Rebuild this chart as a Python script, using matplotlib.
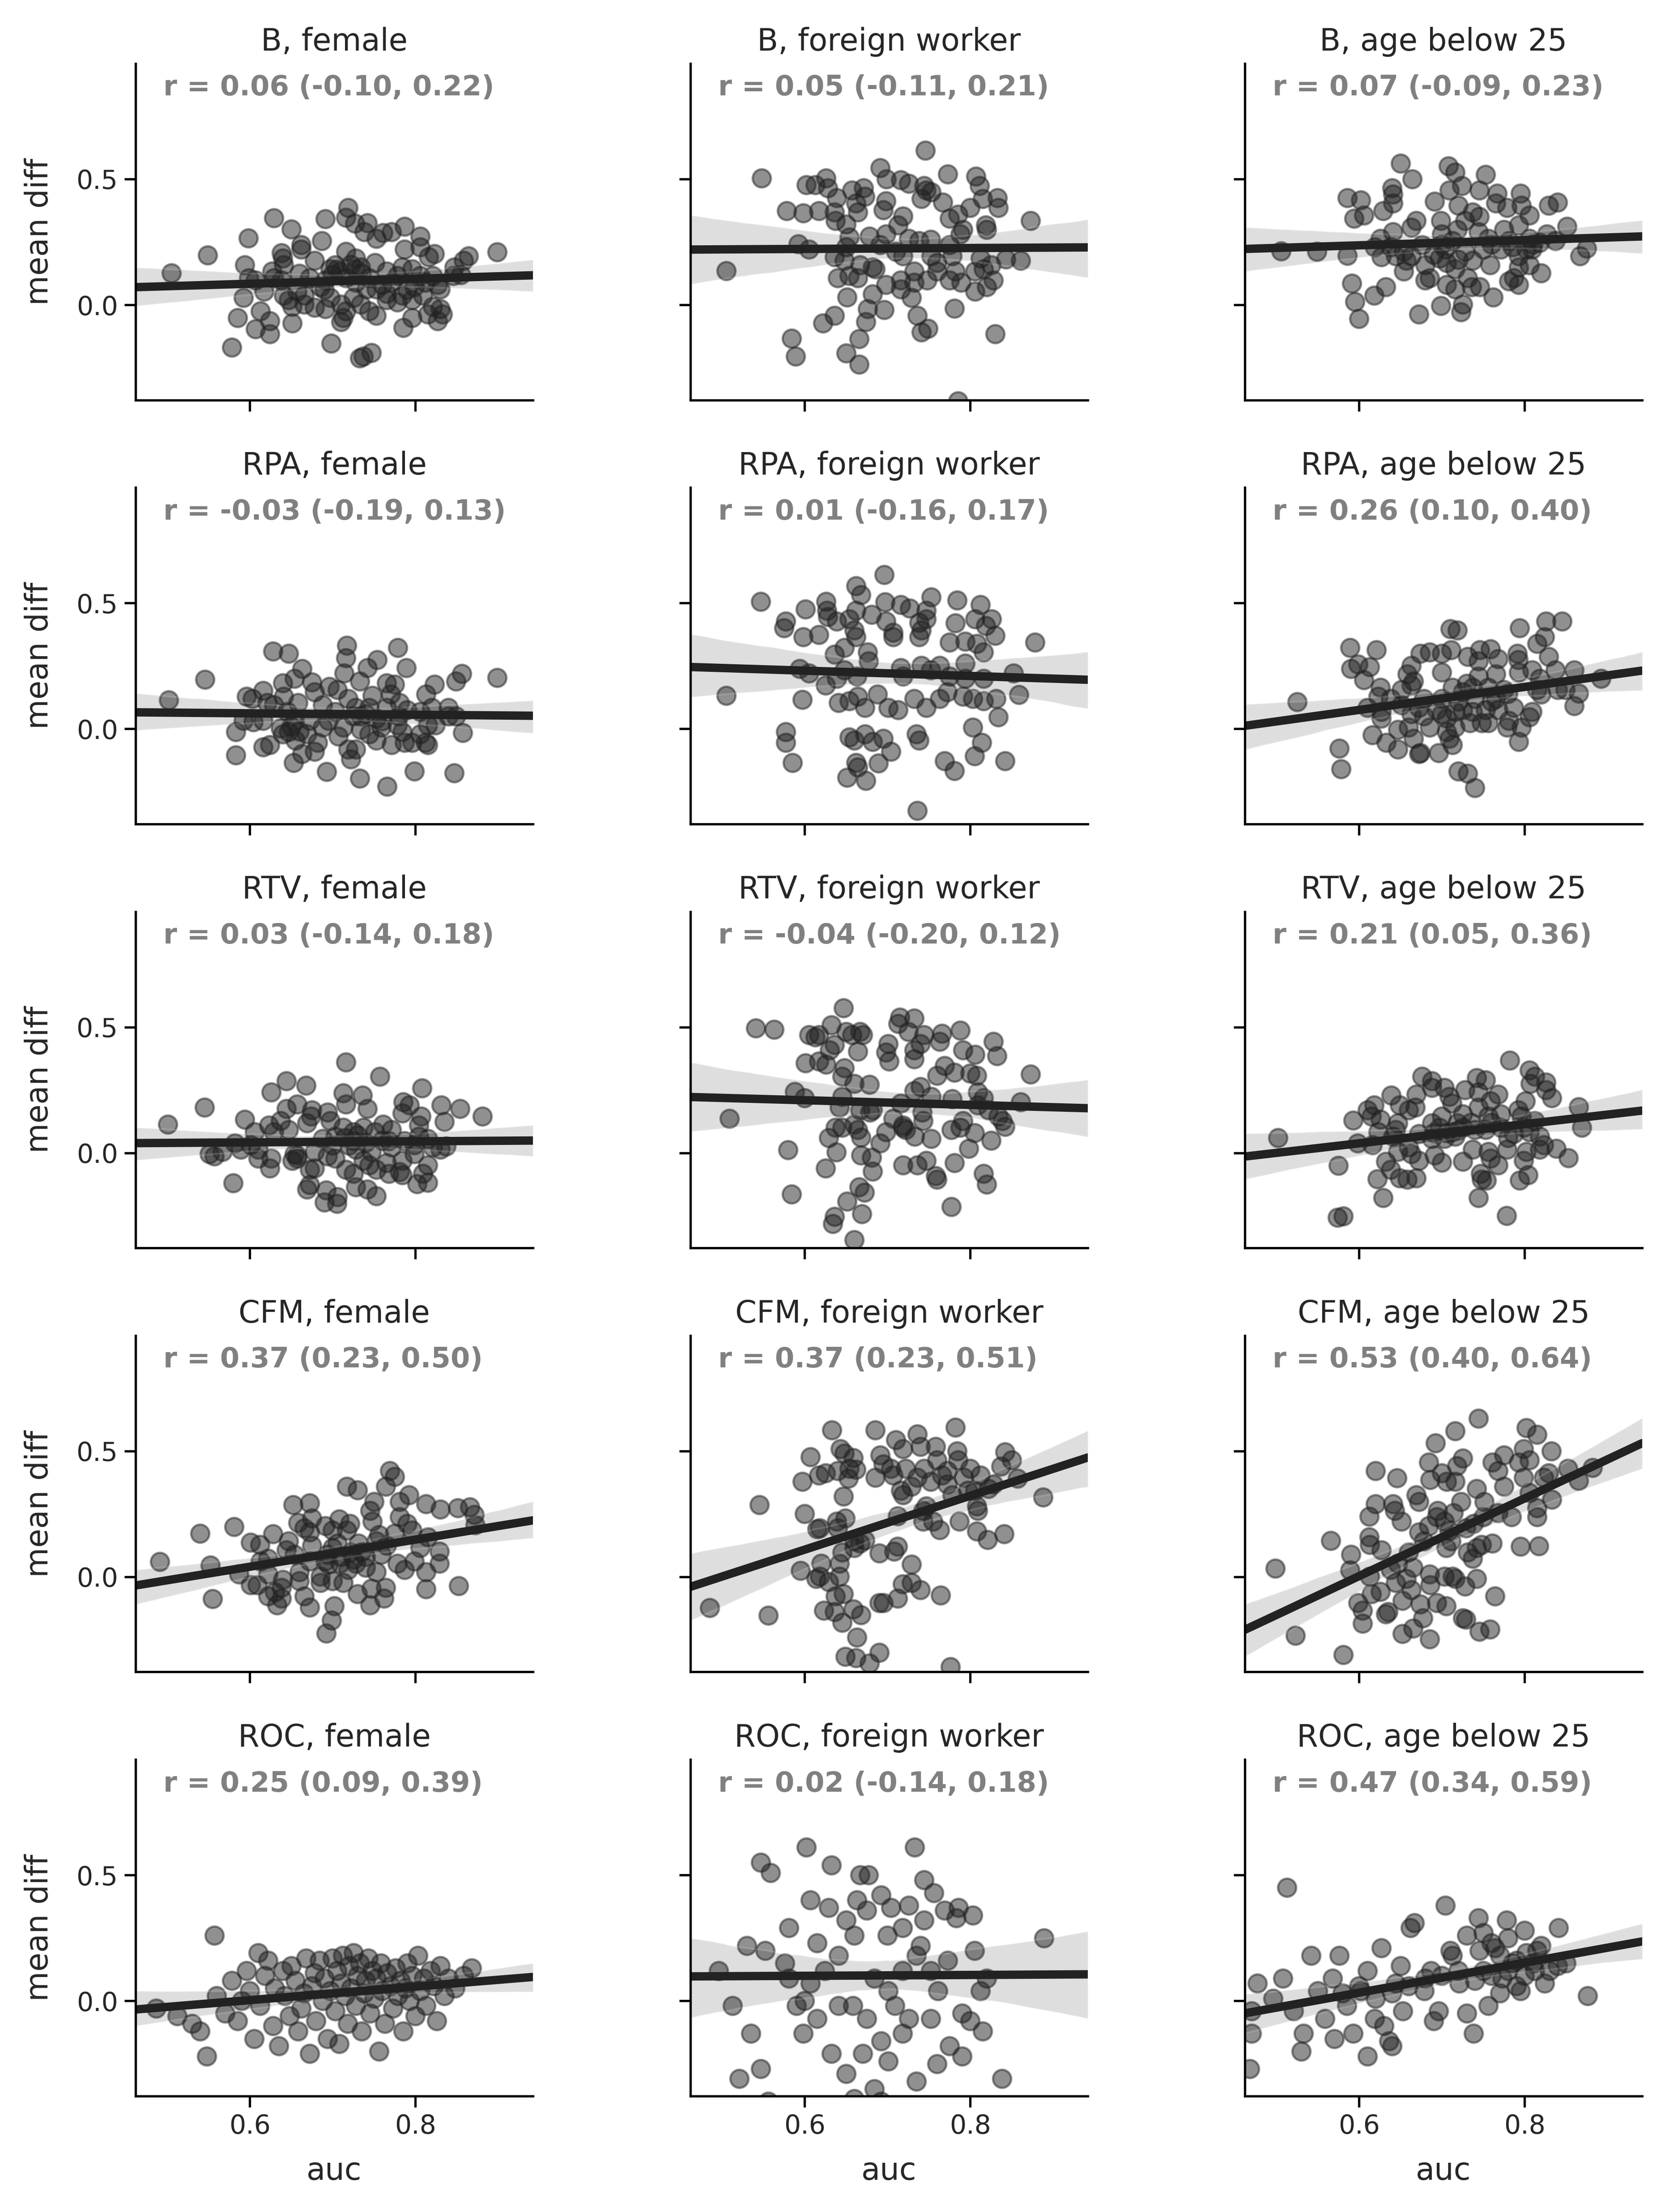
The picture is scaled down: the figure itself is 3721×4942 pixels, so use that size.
import numpy as np
import matplotlib
matplotlib.use("Agg")
import matplotlib.pyplot as plt
import seaborn as sns

methods = ["B", "RPA", "RTV", "CFM", "ROC"]
attributes = ["female", "foreign worker", "age below 25"]
r_labels = [
    "r = 0.06 (-0.10, 0.22)", "r = 0.05 (-0.11, 0.21)", "r = 0.07 (-0.09, 0.23)",
    "r = -0.03 (-0.19, 0.13)", "r = 0.01 (-0.16, 0.17)", "r = 0.26 (0.10, 0.40)",
    "r = 0.03 (-0.14, 0.18)", "r = -0.04 (-0.20, 0.12)", "r = 0.21 (0.05, 0.36)",
    "r = 0.37 (0.23, 0.50)", "r = 0.37 (0.23, 0.51)", "r = 0.53 (0.40, 0.64)",
    "r = 0.25 (0.09, 0.39)", "r = 0.02 (-0.14, 0.18)", "r = 0.47 (0.34, 0.59)",
]
x_ticks = [0.6, 0.8]
y_ticks = [0.0, 0.5]

# (auc, mean diff) pairs
B_female = [
    (0.505,0.126),(0.549,0.198),(0.598,0.266),(0.594,0.159),(0.629,0.345),(0.650,0.301),(0.691,0.341),
    (0.719,0.386),(0.716,0.347),(0.727,0.323),(0.742,0.325),(0.738,0.290),(0.753,0.264),(0.761,0.286),
    (0.771,0.290),(0.787,0.312),(0.806,0.273),(0.806,0.229),(0.787,0.220),(0.823,0.203),(0.816,0.190),
    (0.899,0.210),(0.864,0.194),(0.858,0.177),(0.847,0.150),(0.855,0.120),(0.846,0.115),(0.687,0.255),
    (0.662,0.238),(0.662,0.220),(0.638,0.207),(0.640,0.185),(0.641,0.159),(0.627,0.133),(0.599,0.107),
    (0.607,0.098),(0.592,0.028),(0.617,0.054),(0.613,-0.024),(0.585,-0.051),(0.624,-0.064),(0.607,-0.096),
    (0.624,-0.116),(0.578,-0.169),(0.651,-0.073),(0.651,-0.007),(0.647,0.019),(0.666,0.002),(0.678,-0.011),
    (0.691,-0.016),(0.678,0.177),(0.703,0.159),(0.697,0.142),(0.716,0.212),(0.728,0.185),(0.734,0.150),
    (0.751,0.168),(0.765,0.133),(0.784,0.150),(0.796,0.142),(0.806,0.115),(0.821,0.115),(0.830,0.063),
    (0.809,0.037),(0.796,0.019),(0.778,0.010),(0.784,0.037),(0.753,0.063),(0.741,0.063),(0.725,0.028),
    (0.710,0.002),(0.716,-0.024),(0.744,-0.024),(0.753,-0.042),(0.710,-0.068),(0.713,-0.051),(0.785,-0.090),
    (0.796,-0.051),(0.815,-0.038),(0.827,-0.064),(0.833,-0.038),(0.698,-0.153),(0.733,-0.212),(0.747,-0.191),
    (0.737,-0.204),(0.672,0.107),(0.685,0.072),(0.660,0.124),(0.638,0.098),(0.629,0.107),(0.716,0.107),
    (0.728,0.089),(0.771,0.089),(0.778,0.115),(0.812,0.089),(0.827,0.080),(0.765,0.019),(0.697,0.028),
    (0.641,0.037),(0.657,0.054),(0.691,0.098),(0.744,0.107),(0.799,0.072),(0.821,-0.007),(0.830,-0.016),
    (0.734,0.002),(0.710,0.133),(0.728,0.142),(0.765,0.045),(0.666,0.037),
    (0.700,0.120),(0.705,0.140),(0.722,0.160),(0.735,0.125),(0.690,0.060),(0.760,0.080),(0.790,0.060),
]
B_foreign = [
    (0.548,0.504),(0.505,0.135),(0.578,0.373),(0.598,0.365),(0.617,0.373),(0.602,0.476),(0.613,0.476),
    (0.626,0.504),(0.628,0.465),(0.639,0.426),(0.636,0.369),(0.637,0.334),(0.650,0.321),(0.657,0.456),
    (0.671,0.465),(0.664,0.369),(0.662,0.404),(0.691,0.544),(0.699,0.500),(0.698,0.413),(0.695,0.378),
    (0.716,0.496),(0.726,0.483),(0.719,0.352),(0.713,0.316),(0.746,0.614),(0.744,0.474),(0.753,0.448),
    (0.741,0.421),(0.767,0.408),(0.773,0.520),(0.807,0.510),(0.811,0.474),(0.815,0.421),(0.833,0.426),
    (0.834,0.386),(0.800,0.386),(0.785,0.360),(0.775,0.343),(0.819,0.316),(0.820,0.299),(0.873,0.334),
    (0.791,0.299),(0.788,0.281),(0.775,0.238),(0.752,0.260),(0.738,0.255),(0.726,0.264),(0.698,0.281),
    (0.678,0.273),(0.654,0.268),(0.650,0.229),(0.592,0.242),(0.605,0.220),(0.636,0.190),(0.648,0.177),
    (0.691,0.238),(0.719,0.194),(0.753,0.194),(0.778,0.194),(0.760,0.168),(0.812,0.185),(0.825,0.159),
    (0.843,0.181),(0.861,0.177),(0.816,0.142),(0.806,0.133),(0.828,0.098),(0.820,0.072),(0.806,0.054),
    (0.789,0.089),(0.775,0.098),(0.782,0.133),(0.760,0.133),(0.748,0.098),(0.732,0.133),(0.732,0.089),
    (0.716,0.098),(0.716,0.063),(0.729,0.028),(0.698,0.080),(0.682,0.150),(0.667,0.159),(0.685,0.142),
    (0.664,0.107),(0.654,0.115),(0.640,0.107),(0.651,0.031),(0.682,0.043),(0.676,-0.016),(0.696,-0.020),
    (0.674,-0.068),(0.636,-0.042),(0.622,-0.073),(0.584,-0.134),(0.589,-0.204),(0.666,-0.136),(0.650,-0.192),
    (0.666,-0.236),(0.736,-0.042),(0.741,-0.108),(0.749,-0.094),(0.781,-0.014),(0.830,-0.116),(0.785,-0.383),
    (0.710,0.212),(0.747,0.456),(0.673,0.430),
]
B_age = [
    (0.506,0.213),(0.549,0.212),(0.586,0.196),(0.586,0.426),(0.602,0.417),(0.594,0.343),(0.606,0.356),
    (0.629,0.373),(0.640,0.465),(0.641,0.439),(0.641,0.404),(0.650,0.563),(0.664,0.500),(0.691,0.411),
    (0.708,0.552),(0.716,0.526),(0.724,0.474),(0.709,0.456),(0.720,0.395),(0.753,0.517),(0.745,0.456),
    (0.767,0.443),(0.795,0.443),(0.765,0.404),(0.779,0.386),(0.796,0.395),(0.806,0.356),(0.829,0.395),
    (0.840,0.408),(0.851,0.312),(0.875,0.225),(0.867,0.194),(0.737,0.369),(0.745,0.351),(0.728,0.334),
    (0.699,0.334),(0.669,0.334),(0.663,0.308),(0.641,0.290),(0.626,0.264),(0.619,0.229),(0.627,0.190),
    (0.654,0.212),(0.657,0.177),(0.654,0.133),(0.680,0.159),(0.700,0.281),(0.704,0.220),(0.697,0.185),
    (0.706,0.168),(0.744,0.290),(0.756,0.264),(0.750,0.220),(0.737,0.177),(0.758,0.159),(0.771,0.220),
    (0.781,0.255),(0.793,0.316),(0.806,0.264),(0.818,0.247),(0.827,0.281),(0.837,0.255),(0.793,0.194),
    (0.793,0.150),(0.806,0.159),(0.820,0.126),(0.781,0.094),(0.793,0.080),(0.762,0.031),(0.746,0.072),
    (0.736,0.072),(0.731,0.107),(0.716,0.063),(0.706,0.080),(0.725,0.002),(0.723,-0.029),(0.699,-0.003),
    (0.672,-0.038),(0.685,0.107),(0.680,0.098),(0.632,0.072),(0.618,0.037),(0.591,0.085),(0.595,0.012),
    (0.600,-0.055),(0.719,0.299),(0.802,0.220),(0.663,0.194),(0.713,0.255),(0.775,0.299),(0.728,0.212),
    (0.809,0.220),(0.638,0.229),(0.676,0.238),(0.716,0.142),(0.787,0.107),(0.644,0.194),
    (0.700,0.240),(0.690,0.200),(0.760,0.240),(0.785,0.230),(0.810,0.240),(0.720,0.180),
]
RPA_female = [
    (0.502,0.114),(0.546,0.197),(0.628,0.309),(0.647,0.300),(0.663,0.239),(0.654,0.199),(0.640,0.182),
    (0.675,0.186),(0.717,0.331),(0.716,0.282),(0.714,0.221),(0.733,0.190),(0.742,0.243),(0.754,0.274),
    (0.779,0.322),(0.789,0.243),(0.765,0.182),(0.775,0.177),(0.823,0.177),(0.813,0.138),(0.849,0.190),
    (0.856,0.219),(0.899,0.204),(0.596,0.129),(0.603,0.120),(0.616,0.151),(0.621,0.103),(0.592,0.032),
    (0.604,0.028),(0.616,0.032),(0.583,-0.011),(0.583,-0.105),(0.616,-0.073),(0.624,-0.064),(0.637,0.002),
    (0.641,0.129),(0.658,0.103),(0.654,0.032),(0.647,-0.011),(0.655,-0.046),(0.663,-0.099),(0.653,-0.134),
    (0.678,-0.090),(0.682,-0.055),(0.688,0.006),(0.678,0.146),(0.696,0.168),(0.706,0.155),(0.688,0.094),
    (0.703,0.068),(0.713,0.006),(0.707,-0.029),(0.719,-0.082),(0.728,-0.082),(0.722,-0.121),(0.693,-0.171),
    (0.733,-0.197),(0.766,-0.229),(0.799,-0.169),(0.847,-0.176),(0.857,-0.016),(0.849,0.050),(0.840,0.085),
    (0.820,0.085),(0.815,0.015),(0.824,0.015),(0.815,-0.064),(0.812,-0.055),(0.796,-0.055),(0.787,-0.055),
    (0.771,-0.064),(0.753,-0.046),(0.744,-0.020),(0.734,0.050),(0.728,0.085),(0.748,0.133),(0.765,0.085),
    (0.781,0.103),(0.790,0.076),(0.778,0.015),(0.784,-0.011),(0.759,0.006),(0.806,-0.020),(0.725,0.050),
    (0.672,0.032),(0.669,-0.020),(0.753,0.041),(0.770,0.138),(0.840,0.050),(0.734,-0.003),(0.695,0.032),
    (0.629,0.094),(0.645,0.068),(0.744,0.085),(0.719,0.120),(0.806,0.068),
    (0.650,0.010),(0.660,-0.010),(0.740,0.060),(0.760,0.030),(0.780,0.050),(0.640,-0.020),
]
RPA_foreign = [
    (0.547,0.506),(0.505,0.133),(0.577,0.427),(0.575,0.401),(0.601,0.475),(0.598,0.366),(0.617,0.375),
    (0.626,0.506),(0.627,0.471),(0.628,0.445),(0.639,0.427),(0.654,0.436),(0.662,0.471),(0.662,0.568),
    (0.668,0.532),(0.660,0.392),(0.662,0.366),(0.696,0.613),(0.697,0.504),(0.681,0.454),(0.698,0.427),
    (0.707,0.366),(0.716,0.493),(0.727,0.480),(0.738,0.423),(0.741,0.392),(0.747,0.471),(0.753,0.524),
    (0.738,0.366),(0.784,0.511),(0.782,0.420),(0.812,0.493),(0.806,0.436),(0.826,0.436),(0.819,0.410),
    (0.830,0.370),(0.775,0.344),(0.794,0.348),(0.808,0.339),(0.816,0.304),(0.794,0.261),(0.878,0.344),
    (0.636,0.296),(0.648,0.322),(0.676,0.304),(0.677,0.269),(0.594,0.239),(0.605,0.221),(0.625,0.173),
    (0.639,0.199),(0.648,0.234),(0.663,0.208),(0.716,0.243),(0.719,0.208),(0.741,0.252),(0.752,0.234),
    (0.763,0.252),(0.775,0.208),(0.794,0.199),(0.816,0.199),(0.852,0.221),(0.859,0.136),(0.831,0.120),
    (0.834,0.047),(0.816,0.111),(0.803,0.120),(0.791,0.129),(0.772,0.146),(0.763,0.120),(0.747,0.085),
    (0.732,0.120),(0.713,0.076),(0.701,0.085),(0.688,0.138),(0.673,0.085),(0.664,0.129),(0.654,0.111),
    (0.641,0.103),(0.597,0.116),(0.577,-0.011),(0.577,-0.055),(0.585,-0.134),(0.654,-0.033),(0.660,-0.046),
    (0.673,-0.020),(0.682,-0.051),(0.695,-0.038),(0.704,-0.090),(0.662,-0.134),(0.664,-0.152),(0.651,-0.194),
    (0.674,-0.205),(0.689,-0.136),(0.735,-0.020),(0.738,-0.046),(0.803,0.006),(0.814,-0.055),(0.805,-0.108),
    (0.769,-0.128),(0.781,-0.167),(0.842,-0.128),(0.736,-0.325),(0.707,0.383),(0.747,0.436),
]
RPA_age = [
    (0.525,0.107),(0.576,-0.077),(0.578,-0.159),(0.589,0.322),(0.621,0.313),(0.590,0.239),(0.599,0.256),
    (0.613,0.247),(0.606,0.195),(0.626,0.164),(0.623,0.129),(0.610,0.085),(0.627,0.068),(0.627,0.041),
    (0.616,-0.025),(0.633,-0.055),(0.647,-0.082),(0.672,-0.099),(0.674,-0.095),(0.696,-0.095),(0.713,-0.064),
    (0.720,-0.169),(0.731,-0.178),(0.740,-0.235),(0.647,-0.003),(0.660,0.006),(0.666,-0.038),(0.685,0.006),
    (0.706,-0.011),(0.709,-0.038),(0.651,0.155),(0.663,0.173),(0.658,0.217),(0.663,0.252),(0.674,0.300),
    (0.685,0.304),(0.700,0.300),(0.711,0.313),(0.710,0.398),(0.719,0.392),(0.731,0.287),(0.746,0.313),
    (0.759,0.318),(0.768,0.278),(0.794,0.401),(0.826,0.427),(0.845,0.427),(0.824,0.366),(0.815,0.339),
    (0.791,0.300),(0.792,0.274),(0.829,0.287),(0.837,0.234),(0.860,0.234),(0.892,0.199),(0.865,0.142),
    (0.860,0.092),(0.849,0.155),(0.840,0.155),(0.820,0.138),(0.815,0.155),(0.809,0.234),(0.793,0.225),
    (0.809,0.068),(0.806,0.046),(0.796,0.006),(0.793,-0.051),(0.779,0.006),(0.781,0.032),(0.765,0.120),
    (0.765,0.217),(0.756,0.024),(0.748,0.024),(0.734,0.024),(0.737,0.068),(0.744,0.208),(0.737,0.164),
    (0.725,0.146),(0.713,0.164),(0.700,0.225),(0.700,0.120),(0.694,0.076),(0.706,0.041),(0.716,0.068),
    (0.672,0.085),(0.678,0.050),(0.663,0.059),(0.651,0.094),(0.666,0.190),(0.756,0.164),(0.775,0.155),
    (0.787,0.085),(0.725,0.076),(0.753,0.076),(0.768,0.076),(0.678,0.120),(0.716,0.006),(0.638,0.120),
    (0.744,0.269),(0.818,0.199),
    (0.720,0.110),(0.740,0.120),(0.760,0.110),(0.730,0.180),(0.780,0.140),(0.700,0.060),
]
RTV_female = [
    (0.501,0.114),(0.545,0.180),(0.594,0.132),(0.580,-0.120),(0.626,0.241),(0.644,0.285),(0.668,0.268),
    (0.716,0.360),(0.757,0.303),(0.808,0.257),(0.831,0.190),(0.854,0.175),(0.881,0.145),(0.835,0.123),
    (0.713,0.237),(0.716,0.193),(0.736,0.228),(0.742,0.175),(0.785,0.202),(0.793,0.189),(0.784,0.158),
    (0.807,0.145),(0.804,0.110),(0.761,0.114),(0.694,0.162),(0.675,0.171),(0.674,0.145),(0.657,0.193),
    (0.644,0.175),(0.637,0.127),(0.623,0.110),(0.606,0.083),(0.582,0.039),(0.589,0.013),(0.601,0.031),
    (0.610,0.013),(0.551,-0.004),(0.557,-0.013),(0.567,0.004),(0.610,-0.022),(0.626,-0.022),(0.624,-0.061),
    (0.654,-0.004),(0.651,-0.031),(0.657,-0.009),(0.672,-0.066),(0.678,-0.061),(0.669,-0.145),(0.672,-0.127),
    (0.692,-0.149),(0.690,-0.196),(0.705,-0.202),(0.706,-0.175),(0.728,-0.136),(0.742,-0.145),(0.753,-0.171),
    (0.716,-0.066),(0.725,-0.083),(0.744,-0.048),(0.753,-0.066),(0.768,-0.083),(0.781,-0.075),(0.784,-0.088),
    (0.802,-0.123),(0.815,-0.118),(0.809,-0.083),(0.815,-0.048),(0.799,-0.004),(0.821,0.022),(0.837,0.026),
    (0.771,0.022),(0.768,0.048),(0.747,0.004),(0.728,0.013),(0.725,0.048),(0.713,0.101),(0.725,0.083),
    (0.737,0.101),(0.751,0.083),(0.703,0.066),(0.688,0.057),(0.703,-0.022),(0.694,-0.013),(0.678,0.004),
    (0.647,0.092),(0.629,0.083),(0.787,0.048),(0.804,0.066),(0.815,0.057),(0.830,0.013),(0.784,-0.031),
    (0.799,0.031),(0.657,-0.022),(0.669,0.118),(0.737,-0.031),(0.765,-0.039),(0.771,0.092),(0.697,0.127),
    (0.715,0.060),(0.720,0.030),(0.730,0.070),(0.700,0.030),(0.760,0.050),(0.740,0.040),
]
RTV_foreign = [
    (0.541,0.496),(0.563,0.491),(0.509,0.136),(0.580,0.011),(0.584,-0.164),(0.588,0.243),(0.600,0.219),
    (0.601,0.357),(0.605,0.469),(0.613,0.461),(0.617,0.469),(0.632,0.509),(0.636,0.430),(0.630,0.408),
    (0.617,0.364),(0.626,0.351),(0.647,0.575),(0.650,0.482),(0.657,0.469),(0.667,0.482),(0.670,0.469),
    (0.664,0.404),(0.648,0.338),(0.645,0.303),(0.660,0.276),(0.678,0.272),(0.645,0.224),(0.642,0.180),
    (0.667,0.171),(0.682,0.171),(0.698,0.399),(0.701,0.434),(0.702,0.364),(0.715,0.539),(0.713,0.513),
    (0.732,0.535),(0.725,0.482),(0.744,0.469),(0.740,0.434),(0.732,0.408),(0.732,0.373),(0.766,0.474),
    (0.763,0.443),(0.788,0.487),(0.791,0.408),(0.806,0.390),(0.828,0.443),(0.832,0.386),(0.769,0.346),
    (0.781,0.320),(0.760,0.307),(0.800,0.316),(0.808,0.307),(0.873,0.313),(0.740,0.263),(0.732,0.246),
    (0.753,0.224),(0.778,0.215),(0.809,0.241),(0.816,0.219),(0.809,0.189),(0.822,0.171),(0.861,0.202),
    (0.834,0.145),(0.839,0.127),(0.842,0.105),(0.791,0.127),(0.788,0.101),(0.805,0.079),(0.777,0.092),
    (0.825,0.050),(0.798,0.018),(0.753,0.057),(0.743,0.127),(0.742,0.162),(0.716,0.197),(0.707,0.136),
    (0.719,0.110),(0.722,0.092),(0.733,0.066),(0.698,0.083),(0.691,0.039),(0.668,0.061),(0.660,0.114),
    (0.664,0.092),(0.645,0.101),(0.637,0.101),(0.629,0.060),(0.638,0.003),(0.625,-0.061),(0.668,-0.009),
    (0.681,-0.018),(0.682,-0.073),(0.719,-0.048),(0.736,-0.048),(0.747,-0.031),(0.758,-0.092),(0.760,-0.105),
    (0.781,-0.039),(0.816,-0.083),(0.820,-0.125),(0.777,-0.215),(0.666,-0.136),(0.672,-0.158),(0.651,-0.193),
    (0.669,-0.243),(0.636,-0.254),(0.634,-0.281),(0.660,-0.346),(0.719,0.101),(0.679,0.162),
]
RTV_age = [
    (0.502,0.059),(0.575,-0.051),(0.574,-0.256),(0.581,-0.252),(0.593,0.130),(0.598,0.039),(0.610,0.171),
    (0.618,0.189),(0.615,0.145),(0.626,0.132),(0.616,0.031),(0.623,0.083),(0.639,0.228),(0.649,0.189),
    (0.660,0.171),(0.668,0.180),(0.669,0.232),(0.676,0.303),(0.688,0.285),(0.688,0.259),(0.703,0.259),
    (0.709,0.224),(0.712,0.197),(0.728,0.250),(0.742,0.298),(0.753,0.289),(0.768,0.232),(0.759,0.206),
    (0.744,0.241),(0.782,0.368),(0.806,0.329),(0.812,0.303),(0.826,0.281),(0.807,0.276),(0.826,0.250),
    (0.833,0.219),(0.801,0.206),(0.865,0.182),(0.869,0.101),(0.792,0.171),(0.796,0.145),(0.812,0.127),
    (0.771,0.154),(0.756,0.145),(0.744,0.180),(0.725,0.154),(0.700,0.145),(0.688,0.118),(0.647,0.118),
    (0.644,0.092),(0.641,0.066),(0.672,0.075),(0.688,0.057),(0.703,0.057),(0.716,0.066),(0.725,0.101),
    (0.740,0.092),(0.753,0.092),(0.771,0.101),(0.787,0.075),(0.806,0.083),(0.818,0.066),(0.838,0.018),
    (0.853,-0.020),(0.818,0.013),(0.802,0.004),(0.799,-0.031),(0.804,-0.088),(0.794,-0.110),(0.779,0.013),
    (0.756,0.004),(0.759,-0.022),(0.768,-0.048),(0.747,-0.083),(0.748,-0.105),(0.754,-0.110),(0.744,-0.178),
    (0.778,-0.250),(0.737,0.013),(0.725,-0.035),(0.700,-0.038),(0.691,-0.009),(0.672,-0.031),(0.663,-0.004),
    (0.647,0.004),(0.632,-0.035),(0.638,-0.066),(0.649,-0.101),(0.658,-0.105),(0.669,-0.101),(0.622,-0.103),
    (0.629,-0.178),(0.719,0.118),(0.697,0.101),(0.712,0.083),(0.799,0.101),(0.660,0.022),(0.823,0.031),
    (0.705,0.080),(0.720,0.090),(0.735,0.120),(0.690,0.080),(0.760,0.120),(0.780,0.060),
]
CFM_female = [
    (0.491,0.060),(0.540,0.172),(0.581,0.200),(0.552,0.047),(0.555,-0.088),(0.587,0.010),(0.601,0.137),
    (0.612,0.128),(0.628,0.170),(0.613,0.063),(0.622,0.072),(0.622,0.010),(0.601,-0.033),(0.609,-0.033),
    (0.622,-0.077),(0.633,-0.112),(0.638,-0.086),(0.638,-0.042),(0.652,0.286),(0.672,0.293),(0.658,0.216),
    (0.675,0.233),(0.647,0.142),(0.644,0.107),(0.654,0.089),(0.666,0.194),(0.672,0.177),(0.691,0.203),
    (0.700,0.185),(0.708,0.229),(0.717,0.185),(0.721,0.212),(0.717,0.360),(0.730,0.345),(0.769,0.421),
    (0.775,0.399),(0.764,0.360),(0.750,0.299),(0.745,0.264),(0.748,0.220),(0.781,0.299),(0.792,0.325),
    (0.813,0.290),(0.830,0.268),(0.851,0.273),(0.866,0.277),(0.871,0.247),(0.872,0.207),(0.781,0.238),
    (0.790,0.212),(0.796,0.185),(0.815,0.159),(0.775,0.172),(0.756,0.168),(0.753,0.142),(0.806,0.115),
    (0.829,0.102),(0.829,0.054),(0.813,0.019),(0.813,-0.049),(0.852,-0.036),(0.787,0.028),(0.778,0.054),
    (0.759,0.089),(0.753,0.019),(0.740,0.080),(0.728,0.054),(0.719,0.028),(0.709,0.054),(0.694,0.089),
    (0.691,0.063),(0.672,0.063),(0.660,0.019),(0.660,-0.016),(0.685,0.002),(0.700,-0.016),(0.685,-0.024),
    (0.713,-0.024),(0.666,-0.077),(0.672,-0.121),(0.702,-0.116),(0.699,-0.173),(0.692,-0.224),(0.730,-0.068),
    (0.747,-0.046),(0.745,-0.112),(0.764,-0.042),(0.762,-0.086),(0.722,0.098),(0.706,0.133),(0.731,0.133),
    (0.675,0.124),(0.799,0.063),(0.740,0.037),(0.765,0.124),(0.700,0.115),
    (0.710,0.080),(0.725,0.070),(0.735,0.100),(0.695,0.050),(0.640,-0.010),(0.630,-0.060),
]
CFM_foreign = [
    (0.485,-0.122),(0.556,-0.153),(0.545,0.286),(0.597,0.378),(0.607,0.476),(0.617,0.404),(0.625,0.413),
    (0.633,0.583),(0.643,0.509),(0.648,0.491),(0.659,0.474),(0.654,0.430),(0.640,0.421),(0.662,0.426),
    (0.653,0.391),(0.647,0.321),(0.600,0.251),(0.615,0.190),(0.618,0.194),(0.639,0.220),(0.649,0.233),
    (0.640,0.194),(0.685,0.583),(0.710,0.544),(0.736,0.568),(0.782,0.594),(0.691,0.483),(0.695,0.448),
    (0.685,0.395),(0.707,0.404),(0.719,0.509),(0.722,0.430),(0.736,0.395),(0.740,0.517),(0.758,0.517),
    (0.760,0.465),(0.752,0.378),(0.784,0.500),(0.785,0.465),(0.800,0.430),(0.812,0.404),(0.772,0.421),
    (0.772,0.369),(0.778,0.325),(0.797,0.343),(0.808,0.281),(0.809,0.264),(0.822,0.351),(0.828,0.369),
    (0.842,0.496),(0.850,0.465),(0.837,0.439),(0.857,0.391),(0.888,0.316),(0.716,0.343),(0.719,0.325),
    (0.729,0.360),(0.712,0.242),(0.743,0.264),(0.743,0.220),(0.755,0.220),(0.763,0.187),(0.787,0.220),
    (0.808,0.181),(0.821,0.148),(0.841,0.170),(0.747,0.281),(0.660,0.142),(0.673,0.146),(0.667,0.133),
    (0.660,0.115),(0.645,0.098),(0.690,0.094),(0.712,0.120),(0.708,0.102),(0.729,0.050),(0.642,0.054),
    (0.620,0.054),(0.595,0.024),(0.614,-0.007),(0.618,0.002),(0.642,0.002),(0.629,-0.020),(0.647,-0.068),
    (0.637,-0.077),(0.623,-0.134),(0.636,-0.138),(0.645,-0.182),(0.659,-0.129),(0.668,-0.151),(0.663,-0.240),
    (0.649,-0.317),(0.662,-0.322),(0.690,-0.300),(0.678,-0.344),(0.690,-0.103),(0.695,-0.103),(0.712,-0.086),
    (0.718,-0.029),(0.729,-0.024),(0.740,-0.051),(0.764,-0.073),(0.776,-0.357),(0.704,0.430),(0.744,0.430),
    (0.792,0.395),(0.806,0.343),(0.766,0.404),
]
CFM_age = [
    (0.499,0.034),(0.523,-0.233),(0.581,-0.309),(0.566,0.144),(0.590,0.089),(0.589,0.026),(0.613,0.002),
    (0.612,0.159),(0.613,0.128),(0.612,0.240),(0.620,0.290),(0.620,0.421),(0.646,0.393),(0.641,0.290),
    (0.643,0.264),(0.651,0.220),(0.627,0.107),(0.647,0.054),(0.660,0.098),(0.665,0.037),(0.657,-0.007),
    (0.644,-0.024),(0.663,-0.051),(0.652,-0.094),(0.626,-0.059),(0.615,-0.068),(0.599,-0.103),(0.604,-0.134),
    (0.604,-0.186),(0.635,-0.138),(0.632,-0.147),(0.652,-0.226),(0.665,-0.204),(0.677,-0.164),(0.685,-0.247),
    (0.674,-0.108),(0.694,-0.103),(0.705,-0.116),(0.686,-0.033),(0.685,0.010),(0.703,0.002),(0.716,-0.007),
    (0.728,-0.038),(0.742,-0.007),(0.725,-0.164),(0.729,-0.169),(0.745,-0.217),(0.758,-0.208),(0.764,-0.077),
    (0.737,0.072),(0.742,0.115),(0.761,0.133),(0.748,0.128),(0.705,0.115),(0.711,0.142),(0.678,0.142),
    (0.672,0.177),(0.684,0.203),(0.669,0.325),(0.672,0.299),(0.694,0.238),(0.695,0.264),(0.703,0.220),
    (0.714,0.255),(0.723,0.299),(0.729,0.194),(0.738,0.212),(0.750,0.238),(0.751,0.299),(0.742,0.351),
    (0.716,0.378),(0.706,0.378),(0.700,0.413),(0.686,0.386),(0.684,0.456),(0.692,0.532),(0.716,0.579),
    (0.744,0.629),(0.718,0.441),(0.725,0.471),(0.761,0.456),(0.775,0.483),(0.768,0.421),(0.775,0.360),
    (0.768,0.255),(0.784,0.238),(0.795,0.120),(0.817,0.122),(0.802,0.592),(0.815,0.566),(0.799,0.509),
    (0.806,0.465),(0.799,0.395),(0.832,0.500),(0.823,0.395),(0.829,0.413),(0.806,0.334),(0.815,0.273),
    (0.815,0.238),(0.833,0.308),(0.852,0.430),(0.865,0.382),(0.882,0.434),(0.793,0.456),(0.709,0.185),
    (0.731,0.098),(0.713,0.002),(0.638,0.028),
]
ROC_female = [
    (0.487,-0.03),(0.512,-0.06),(0.530,-0.09),(0.540,-0.12),(0.548,-0.22),(0.557,0.26),(0.560,0.02),
    (0.570,-0.05),(0.578,0.08),(0.585,-0.08),(0.590,0.00),(0.596,0.12),(0.600,0.04),(0.605,-0.15),
    (0.610,0.19),(0.612,-0.02),(0.618,0.10),(0.622,0.16),(0.628,-0.10),(0.630,0.05),(0.635,-0.18),
    (0.640,0.12),(0.642,0.02),(0.648,-0.06),(0.650,0.14),(0.655,0.08),(0.658,-0.12),(0.662,-0.03),
    (0.665,0.03),(0.668,0.17),(0.672,-0.21),(0.675,0.06),(0.678,0.11),(0.680,-0.08),(0.684,0.16),
    (0.688,0.00),(0.690,0.09),(0.694,-0.15),(0.697,0.04),(0.700,0.17),(0.703,-0.04),(0.705,0.12),
    (0.708,-0.17),(0.710,0.07),(0.712,0.18),(0.715,0.02),(0.718,-0.09),(0.720,0.14),(0.722,0.05),
    (0.725,0.19),(0.728,-0.02),(0.730,0.10),(0.733,0.15),(0.735,-0.12),(0.738,0.03),(0.740,0.08),
    (0.743,0.17),(0.745,-0.05),(0.748,0.12),(0.750,0.01),(0.753,0.09),(0.756,-0.20),(0.758,0.15),
    (0.760,0.04),(0.763,-0.09),(0.766,0.11),(0.770,0.06),(0.773,-0.03),(0.776,0.13),(0.779,0.02),
    (0.782,0.08),(0.785,-0.12),(0.788,0.05),(0.790,0.15),(0.793,0.00),(0.796,0.10),(0.800,-0.06),
    (0.803,0.18),(0.806,0.04),(0.810,0.09),(0.813,-0.02),(0.818,0.12),(0.822,0.06),(0.826,-0.08),
    (0.830,0.14),(0.835,0.02),(0.840,0.09),(0.848,0.05),(0.858,0.10),(0.868,0.13),
]
ROC_foreign = [
    (0.547,0.55),(0.559,0.51),(0.602,0.61),(0.632,0.54),(0.667,0.50),(0.677,0.50),(0.733,0.61),
    (0.744,0.48),(0.581,0.09),(0.607,0.07),(0.624,0.12),(0.641,0.18),(0.650,0.32),(0.663,0.40),
    (0.675,0.36),(0.692,0.42),(0.704,0.37),(0.718,0.29),(0.726,0.38),(0.744,0.32),(0.756,0.43),
    (0.769,0.36),(0.783,0.33),(0.800,-0.08),(0.812,0.04),(0.684,0.09),(0.701,0.04),(0.718,0.12),
    (0.735,0.18),(0.752,0.12),(0.658,-0.02),(0.675,-0.07),(0.692,-0.16),(0.709,-0.02),(0.726,-0.07),
    (0.632,-0.21),(0.615,-0.07),(0.590,-0.02),(0.496,0.12),(0.513,-0.02),(0.521,-0.31),(0.535,-0.13),
    (0.547,-0.27),(0.556,-0.40),(0.576,0.15),(0.598,-0.13),(0.615,0.23),(0.629,0.37),(0.641,-0.02),
    (0.650,-0.29),(0.660,-0.39),(0.670,-0.21),(0.684,-0.35),(0.692,-0.40),(0.701,-0.24),(0.718,-0.13),
    (0.735,-0.32),(0.752,-0.07),(0.761,0.04),(0.773,0.16),(0.786,0.37),(0.803,0.34),(0.820,0.09),
    (0.838,-0.31),(0.889,0.25),(0.581,0.29),(0.607,0.40),(0.552,0.20),(0.660,0.26),(0.700,0.26),
    (0.740,0.22),(0.775,-0.18),(0.815,-0.12),(0.790,-0.05),(0.600,0.00),(0.790,-0.22),(0.530,0.22),
    (0.760,-0.25),(0.805,0.20),
]
ROC_age = [
    (0.513,0.45),(0.470,-0.04),(0.470,-0.13),(0.477,0.07),(0.496,0.01),(0.508,0.09),(0.521,-0.04),
    (0.533,-0.13),(0.542,0.18),(0.550,0.04),(0.559,-0.07),(0.568,0.09),(0.576,0.18),(0.585,-0.02),
    (0.593,-0.13),(0.602,0.04),(0.610,0.12),(0.619,-0.07),(0.627,0.21),(0.636,-0.16),(0.644,0.07),
    (0.653,-0.04),(0.662,0.29),(0.667,0.31),(0.679,0.04),(0.687,0.12),(0.696,-0.04),(0.704,0.38),
    (0.713,0.18),(0.721,0.07),(0.730,0.26),(0.738,-0.13),(0.744,0.33),(0.750,0.12),(0.756,-0.02),
    (0.764,0.21),(0.773,0.09),(0.778,0.32),(0.785,0.15),(0.795,0.04),(0.802,0.19),(0.812,0.12),
    (0.824,0.07),(0.841,0.29),(0.850,0.15),(0.876,0.02),(0.760,0.10),(0.780,0.12),(0.800,0.10),
    (0.740,0.08),(0.720,0.12),(0.700,0.10),(0.680,0.09),(0.660,0.06),(0.640,0.03),(0.620,0.01),
    (0.600,0.06),(0.790,0.06),(0.810,0.15),(0.830,0.12),(0.770,0.03),(0.730,-0.05),(0.690,-0.08),
    (0.650,0.14),(0.710,0.20),(0.750,0.27),(0.630,-0.10),(0.580,0.03),
    (0.468,-0.27),(0.530,-0.20),(0.570,-0.15),(0.610,-0.22),(0.640,-0.18),(0.780,0.25),(0.800,0.28),
    (0.820,0.22),(0.770,0.18),(0.790,0.16),(0.815,0.20),(0.840,0.14),(0.760,0.23),(0.745,0.20),
]

panel_points = [
    [B_female, B_foreign, B_age],
    [RPA_female, RPA_foreign, RPA_age],
    [RTV_female, RTV_foreign, RTV_age],
    [CFM_female, CFM_foreign, CFM_age],
    [ROC_female, ROC_foreign, ROC_age],
]

sns.set_style("ticks")
plt.rcParams['font.family'] = ['DejaVu Sans']

W, H, DPI = 3721, 4942, 300
fig = plt.figure(figsize=(W / DPI, H / DPI), dpi=DPI)
fig.patch.set_facecolor("white")

col_left = [303, 1543, 2782]
ax_w = 888
row_top0, row_pitch, ax_h = 142, 947.3, 751.5
XLIM = (0.462, 0.942)
YLIM = (-0.378, 0.959)
DARK = "#222222"
TXT = "#262626"

for i, m in enumerate(methods):
    for j, a in enumerate(attributes):
        top = row_top0 + i * row_pitch
        rect = [col_left[j] / W, 1 - (top + ax_h) / H, ax_w / W, ax_h / H]
        ax = fig.add_axes(rect)
        pts = np.array(panel_points[i][j])
        ax.set_xlim(XLIM)
        ax.set_ylim(YLIM)
        sns.regplot(x=pts[:, 0], y=pts[:, 1], ax=ax, color=DARK, truncate=False,
                    seed=0, ci=95,
                    scatter_kws=dict(s=95, alpha=0.5, linewidths=1.2),
                    line_kws=dict(lw=4.5))
        ax.set_xlim(XLIM)
        ax.set_ylim(YLIM)
        ax.set_xticks(x_ticks)
        ax.set_yticks(y_ticks)
        ax.set_xticklabels([f"{t:.1f}" for t in x_ticks])
        ax.set_yticklabels([f"{t:.1f}" for t in y_ticks])
        for s in ["top", "right"]:
            ax.spines[s].set_visible(False)
        for s in ["left", "bottom"]:
            ax.spines[s].set_linewidth(1.25)
            ax.spines[s].set_color("black")
        ax.tick_params(axis="both", direction="out", length=6, width=1.25,
                       labelsize=14, colors="black", labelcolor=TXT)
        ax.tick_params(axis="x", labelbottom=(i == len(methods) - 1))
        ax.tick_params(axis="y", labelleft=(j == 0))
        ax.set_title(f"{m}, {a}", fontsize=16.5, color=TXT, pad=7)
        ax.set_xlabel("auc" if i == len(methods) - 1 else "", fontsize=16.5, color=TXT, labelpad=9)
        ax.set_ylabel("mean diff" if j == 0 else "", fontsize=16.5, color=TXT, labelpad=12)
        ax.text(0.07, 0.905, r_labels[i * 3 + j], transform=ax.transAxes,
                fontsize=15, fontweight="bold", color="gray", va="baseline", ha="left")

fig.savefig("out.png", dpi=DPI, facecolor="white")
